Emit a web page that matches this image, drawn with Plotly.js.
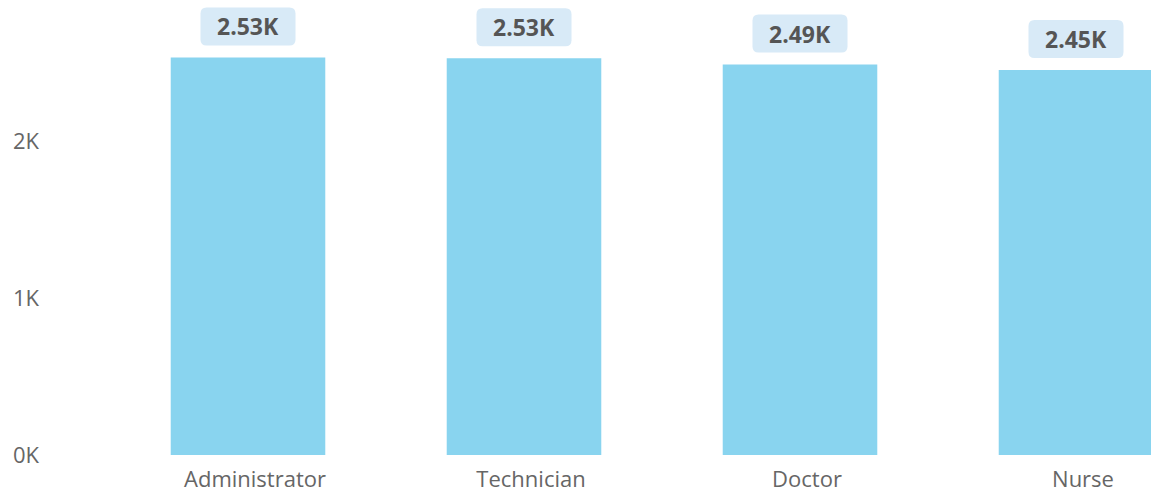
<!DOCTYPE html>
<html>
<head>
<meta charset="utf-8">
<script src="https://cdn.plot.ly/plotly-3.0.1.min.js"></script>
<style>html,body{margin:0;padding:0;background:#fff;}#chart{width:1151px;height:492px;}</style>
</head>
<body>
<div id="chart"></div>
<script>
const categories = ["Administrator", "Technician", "Doctor", "Nurse"];
const values = [2532, 2527, 2487, 2452];
const yTickVals = [0, 1000, 2000];
const yTickText = ["0K", "1K", "2K"];

const barColor = "#89D4EF";
const boxColor = "#D8EAF7";

function roundRect(x0, y0, x1, y1, r) {
  return `M${x0 + r},${y0} H${x1 - r} Q${x1},${y0} ${x1},${y0 + r} V${y1 - r} Q${x1},${y1} ${x1 - r},${y1} H${x0 + r} Q${x0},${y1} ${x0},${y1 - r} V${y0 + r} Q${x0},${y0} ${x0 + r},${y0} Z`;
}

const shapes = values.map((v, i) => ({
  type: "path",
  xref: "x", yref: "y",
  xsizemode: "pixel", ysizemode: "pixel",
  xanchor: i, yanchor: v,
  path: roundRect(-47.5, 12, 47.5, 50, 6),
  fillcolor: boxColor,
  line: { width: 0 },
  layer: "above"
}));

const annotations = values.map((v, i) => ({
  x: categories[i], y: v, xref: "x", yref: "y",
  text: (v / 1000).toFixed(2) + "K",
  showarrow: false,
  yshift: 31,
  font: { family: "Open Sans", size: 23, color: "#555555", weight: "bold" }
}));

const trace = {
  type: "bar",
  x: categories,
  y: values,
  marker: { color: barColor },
  hoverinfo: "x+y"
};

const layout = {
  width: 1151, height: 492,
  margin: { l: 110, r: 0, t: 0, b: 37 },
  paper_bgcolor: "#ffffff", plot_bgcolor: "#ffffff",
  bargap: 0.44,
  showlegend: false,
  font: { family: "Open Sans", color: "#666666" },
  xaxis: {
    type: "category",
    range: [-0.5, -0.5 + 1041 / 276],
    showgrid: false, zeroline: false, showline: false, ticks: "",
    tickfont: { family: "Open Sans", size: 22, color: "#666666" },
    ticklabelshift: 7,
    ticklabelstandoff: 9
  },
  yaxis: {
    range: [0, 2898],
    tickvals: yTickVals, ticktext: yTickText,
    showgrid: false, zeroline: false, showline: false, ticks: "",
    tickfont: { family: "Open Sans", size: 22, color: "#666666" },
    ticklabelstandoff: 70
  },
  shapes: shapes,
  annotations: annotations
};

Plotly.newPlot("chart", [trace], layout, { displayModeBar: false, staticPlot: true });
</script>
</body>
</html>
